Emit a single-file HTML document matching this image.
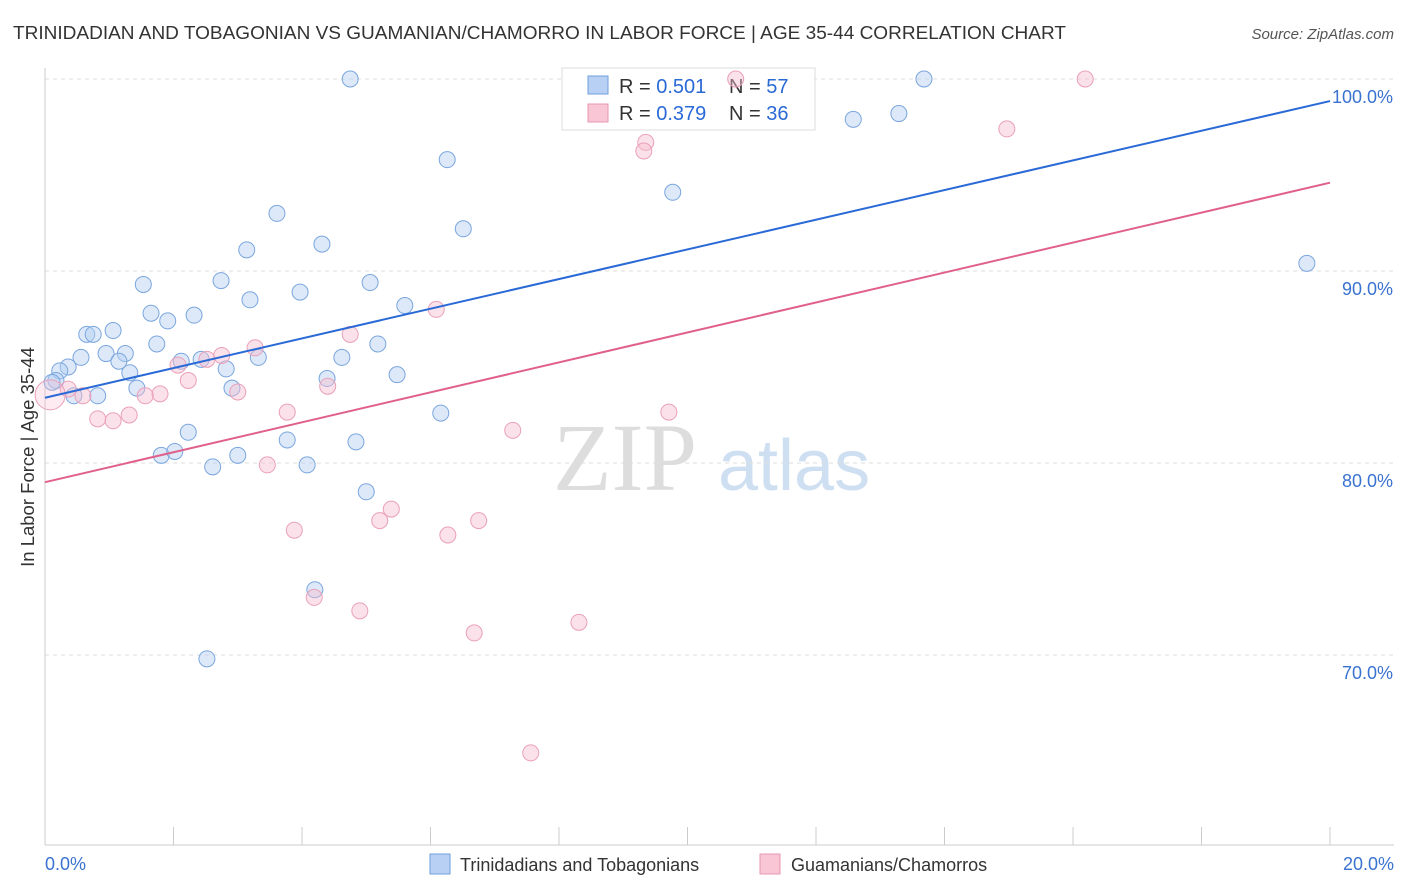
<!DOCTYPE html>
<html><head><meta charset="utf-8"><style>
body{margin:0;background:#fff;font-family:"Liberation Sans",sans-serif}
svg{display:block}
</style></head><body>
<svg id="c" width="1406" height="892">
<text x="13" y="39" font-size="18" textLength="1053" lengthAdjust="spacingAndGlyphs" fill="#333">TRINIDADIAN AND TOBAGONIAN VS GUAMANIAN/CHAMORRO IN LABOR FORCE | AGE 35-44 CORRELATION CHART</text>
<text x="1394" y="39" font-size="15" fill="#555" font-style="italic" text-anchor="end">Source: ZipAtlas.com</text>
<text x="0" y="0" transform="translate(34,457) rotate(-90)" font-size="18.5" fill="#333" text-anchor="middle">In Labor Force | Age 35-44</text>
<g><text x="553" y="490" font-size="96" font-family="Liberation Serif" fill="#ddd">ZIP</text><text x="718" y="490" font-size="72" fill="#cfdff2">atlas</text></g>
<g id="grid"></g>
<g>
<rect x="562" y="68" width="253" height="62" fill="#fff" stroke="#ddd"/>
<rect x="588" y="76" width="20" height="18" fill="#b7d0f3" stroke="#6f9fdc"/>
<text x="619" y="93" font-size="20" fill="#333">R = <tspan fill="#2a6ad6">0.501</tspan></text>
<text x="729" y="93" font-size="20" fill="#333">N = <tspan fill="#2a6ad6">57</tspan></text>
<rect x="588" y="104" width="20" height="18" fill="#f8c6d5" stroke="#e896b0"/>
<text x="619" y="120" font-size="20" fill="#333">R = <tspan fill="#2a6ad6">0.379</tspan></text>
<text x="729" y="120" font-size="20" fill="#333">N = <tspan fill="#2a6ad6">36</tspan></text>
</g>
<g id="marks"></g>
<g>
<rect x="430" y="854" width="20" height="20" fill="#b7d0f3" stroke="#6f9fdc"/>
<text x="460" y="871" font-size="18" fill="#333">Trinidadians and Tobagonians</text>
<rect x="760" y="854" width="20" height="20" fill="#f8c6d5" stroke="#e896b0"/>
<text x="791" y="871" font-size="18" fill="#333">Guamanians/Chamorros</text>
</g>
</svg>
<script>
const blueX=[4.75,13.68,12.58,13.29,6.26,9.77,6.51,3.61,4.31,3.14,19.64,1.53,2.74,3.97,5.06,3.19,5.60,1.65,1.91,2.32,0.65,0.75,1.06,1.74,5.18,1.25,0.95,0.56,1.15,2.12,2.43,3.32,4.62,0.36,0.23,2.82,1.32,0.17,0.11,5.48,4.39,1.43,2.91,0.45,0.82,6.16,2.23,3.77,4.84,1.81,2.02,3.00,2.61,4.08,5.00,4.20,2.52];
const blueY=[100,100,97.9,98.2,95.8,94.1,92.2,93.0,91.4,91.1,90.4,89.3,89.5,88.9,89.4,88.5,88.2,87.8,87.4,87.7,86.7,86.7,86.9,86.2,86.2,85.7,85.7,85.5,85.3,85.3,85.4,85.5,85.5,85.0,84.8,84.9,84.7,84.3,84.2,84.6,84.4,83.9,83.9,83.5,83.5,82.6,81.6,81.2,81.1,80.4,80.6,80.4,79.8,79.9,78.5,73.4,69.8];
const pinkX=[10.75,16.19,14.97,9.35,9.32,4.75,6.09,3.27,2.75,2.52,2.07,2.23,4.40,3.00,1.79,1.56,0.36,0.59,0.82,1.06,1.31,3.77,9.71,7.28,3.46,5.39,5.21,6.75,3.88,6.27,4.19,4.90,6.68,8.31,7.56];
const pinkY=[100,100,97.4,96.7,96.25,86.7,88.0,86.0,85.6,85.4,85.1,84.3,84.0,83.7,83.6,83.5,83.85,83.5,82.3,82.2,82.5,82.65,82.65,81.7,79.9,77.6,77.0,77.0,76.5,76.25,73.0,72.3,71.15,71.7,64.9];
const blueTrend=[83.4,98.85]; // y at x=0 and x=20
const pinkTrend=[79.0,94.6];
const yTicks=[70,80,90,100];
const xTickLabels=["0.0%","20.0%"];
const NS="http://www.w3.org/2000/svg";
const sx=v=>45+v/20*1285, sy=v=>79+(100-v)*19.2;
function mk(t,a,p){const e=document.createElementNS(NS,t);for(const k in a)e.setAttribute(k,a[k]);p.appendChild(e);return e;}
const g=document.getElementById('grid'), m=document.getElementById('marks');
yTicks.forEach(t=>{
 const l=mk('line',{x1:45,x2:1394,y1:sy(t),y2:sy(t),stroke:'#ddd','stroke-dasharray':'4,4'},g);
 
 
 const tx=mk('text',{x:1393,y:sy(t)+24,'font-size':18,fill:'#3a72d0','text-anchor':'end'},g);
 tx.textContent=t.toFixed(1)+'%';
 
 
});
mk('line',{x1:45,x2:45,y1:68,y2:845,stroke:'#ccc'},g);
mk('line',{x1:45,x2:1394,y1:845,y2:845,stroke:'#ccc'},g);
for(let i=0;i<=10;i++){const t=mk('line',{x1:sx(i*2),x2:sx(i*2),y1:827,y2:845,stroke:'#ccc'},g);
 
 }
[0,20].forEach((v,i)=>{const t=mk('text',{x:i?1394:45,y:870,'font-size':18,fill:'#3a72d0','text-anchor':i?'end':'start'},g);
 t.textContent=xTickLabels[i];
 
 });
function pts(X,Y,fill,stroke,name){X.forEach((x,i)=>{const c=mk('circle',{cx:sx(x),cy:sy(Y[i]),r:8,fill:fill,stroke:stroke,'stroke-width':1},m);
 
 });}
pts(blueX,blueY,'rgba(180,206,242,0.45)','#7aa6de','blue-point');
pts(pinkX,pinkY,'rgba(247,190,208,0.45)','#eaa0b8','pink-point');
const big=mk('circle',{cx:sx(0.08),cy:sy(83.55),r:15,fill:'rgba(247,190,208,0.3)',stroke:'#eaa0b8'},m);


const bl=mk('line',{x1:sx(0),y1:sy(blueTrend[0]),x2:sx(20),y2:sy(blueTrend[1]),stroke:'#2a6ad6','stroke-width':2},m);


const pl=mk('line',{x1:sx(0),y1:sy(pinkTrend[0]),x2:sx(20),y2:sy(pinkTrend[1]),stroke:'#e0608a','stroke-width':2},m);


</script>
</body></html>
